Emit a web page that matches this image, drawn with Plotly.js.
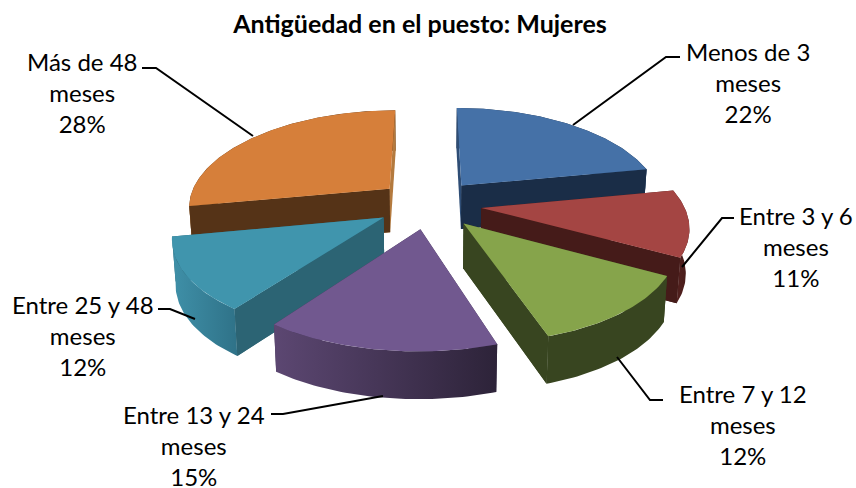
<!DOCTYPE html>
<html>
<head>
<meta charset="utf-8">
<script src="https://cdn.plot.ly/plotly-3.0.1.min.js"></script>
<style>html,body{margin:0;padding:0;background:#fff}#chart{width:856px;height:488px}</style>
</head>
<body>
<div id="chart"></div>
<script>
const chartTitle = 'Antigüedad en el puesto: Mujeres';
const categories = ['Menos de 3<br>meses', 'Entre 3 y 6<br>meses', 'Entre 7 y 12<br>meses', 'Entre 13 y 24<br>meses', 'Entre 25 y 48<br>meses', 'Más de 48<br>meses'];
const values = [22, 11, 12, 15, 12, 28];
const topColors = ['#4571a7', '#a44543', '#86a44b', '#71588f', '#4095ad', '#d67f3a'];
const edgeColors = ['#1a2d47', '#451b19', '#384520', '#3f3150', '#2c6474', '#553317'];
const backColors = ['#2e4d75', '#451b19', '#384520', '#3f3150', '#2c6474', '#b47a3e'];
const arcLeft = ['#1a2d47', '#5a2422', '#384520', '#5c4772', '#3f90a8', '#553317'];
const arcRight = ['#1a2d47', '#451b19', '#384520', '#2d2339', '#2f7288', '#553317'];
const labelPos = [[748, 82], [796, 246], [743, 424], [194, 445], [83, 335], [82, 92]];
const leaders = [
  [[680, 666, 573], [57, 57, 125]],
  [[734, 722, 682], [218, 218, 267]],
  [[663, 650, 617], [400, 400, 357]],
  [[271, 283, 383], [414, 414, 396]],
  [[158, 170, 195], [309, 309, 319]],
  [[142, 156, 253], [68, 68, 136]]
];
const drawOrder = [0, 5, 1, 4, 2, 3];
// which radial wall of each slice faces the viewer: 0 = start edge, 1 = end edge, -1 = none
const nearWall = [1, 1, 1, -1, 0, 0];
// slices at the back have their outer wall hidden, so it goes underneath
const wallFirst = [true, false, false, false, false, true];

// projection of the tilted disc onto the picture
const CX = 429, CY = 204, A = 202, B = 94.7, PX = 0.17, PY = 0.153, EXPLODE = 0.26;
function project(u, v) {
  return [CX + A * u / (1 + PX * v), CY - B * v / (1 + PY * v), v];
}
function lower(p) {
  const d = 44 - 3 * p[2];
  return [CX + (p[0] - CX) * 0.986, p[1] + d];
}
const total = values.reduce((a, b) => a + b, 0);
let cum = 0;
const slices = values.map(v => {
  const s = cum / total * 2 * Math.PI;
  cum += v;
  return [s, cum / total * 2 * Math.PI];
});
function face(pts, color, gradient) {
  const tr = {
    type: 'scatter', mode: 'lines', x: pts.map(p => p[0]), y: pts.map(p => p[1]),
    fill: 'toself', line: {width: 0, color: color}, hoverinfo: 'skip', showlegend: false
  };
  if (gradient) {
    tr.fillgradient = {type: 'horizontal', colorscale: [[0, gradient[0]], [1, gradient[1]]]};
  } else {
    tr.fillcolor = color;
  }
  return tr;
}
const traces = [];
drawOrder.forEach(i => {
  const [s, e] = slices[i];
  const m = (s + e) / 2;
  const ox = EXPLODE * Math.sin(m), oy = EXPLODE * Math.cos(m);
  const apex = project(ox, oy);
  const arc = [];
  const n = Math.max(8, Math.round((e - s) * 180 / Math.PI));
  for (let k = 0; k <= n; k++) {
    const t = s + (e - s) * k / n;
    arc.push(project(ox + Math.sin(t), oy + Math.cos(t)));
  }
  const first = arc[0], last = arc[arc.length - 1];
  const radial = (p, col) => face([apex, p, lower(p), lower(apex), apex], col);
  const wall = arc.concat(arc.slice().reverse().map(lower));
  wall.push(arc[0]);
  const wallFace = face(wall, edgeColors[i], arcLeft[i] !== arcRight[i] ? [arcLeft[i], arcRight[i]] : null);
  if (wallFirst[i]) traces.push(wallFace);
  traces.push(radial(first, backColors[i]));
  traces.push(radial(last, backColors[i]));
  if (!wallFirst[i]) traces.push(wallFace);
  if (nearWall[i] >= 0) traces.push(radial(nearWall[i] === 0 ? first : last, edgeColors[i]));
  traces.push(face([apex].concat(arc, [apex]), topColors[i]));
});
leaders.forEach(l => traces.push({
  type: 'scatter', mode: 'lines', x: l[0], y: l[1],
  line: {color: '#000', width: 2}, hoverinfo: 'skip', showlegend: false
}));
const fontFamily = 'Lato, "Open Sans", sans-serif';
const annotations = categories.map((c, i) => ({
  x: labelPos[i][0], y: labelPos[i][1], xref: 'x', yref: 'y',
  xanchor: 'center', yanchor: 'middle', showarrow: false, align: 'center',
  text: c + '<br>' + values[i] + '%',
  font: {family: fontFamily, size: 24, color: '#000'}
}));
const layout = {
  width: 856, height: 488, margin: {l: 0, r: 0, t: 0, b: 0},
  paper_bgcolor: '#fff', plot_bgcolor: '#fff', showlegend: false,
  title: {text: '<b>' + chartTitle + '</b>', x: 420 / 856, xref: 'paper', xanchor: 'center', y: 1 - 24 / 488, yref: 'container', yanchor: 'middle',
    font: {family: fontFamily, size: 25, color: '#000'}},
  xaxis: {range: [0, 856], visible: false, fixedrange: true},
  yaxis: {range: [488, 0], visible: false, fixedrange: true},
  annotations: annotations
};
Plotly.newPlot('chart', traces, layout, {displayModeBar: false, staticPlot: true});
</script>
</body>
</html>
